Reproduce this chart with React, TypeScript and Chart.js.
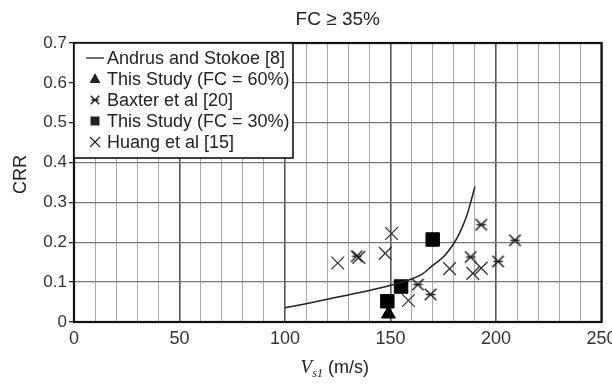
import React, { useEffect, useRef } from 'react';
import { Chart, registerables } from 'chart.js';

Chart.register(...registerables);

// Andrus and Stokoe curve
const curveVs = [100, 110, 120, 130, 140, 150, 160, 165, 170, 175, 180, 183, 186, 188, 190];
const curveCRR = [0.036, 0.046, 0.057, 0.068, 0.079, 0.092, 0.108, 0.12, 0.142, 0.163, 0.197, 0.226, 0.265, 0.3, 0.34];

const fc60Vs = [149];
const fc60CRR = [0.02];

const baxterVs = [134, 163, 169, 188, 193, 201, 209];
const baxterCRR = [0.165, 0.094, 0.069, 0.163, 0.244, 0.152, 0.205];

const fc30Vs = [148.5, 155, 170];
const fc30CRR = [0.052, 0.089, 0.207];

const huangVs = [125, 135, 147.5, 150.5, 158.5, 178, 189, 193];
const huangCRR = [0.148, 0.162, 0.172, 0.222, 0.054, 0.134, 0.122, 0.135];

const legendLabels = [
  'Andrus and Stokoe [8]',
  'This Study (FC = 60%)',
  'Baxter et al [20]',
  'This Study (FC = 30%)',
  'Huang et al [15]',
];

const titleText = 'FC \u2265 35%';
const yTitle = 'CRR';

const SANS = '"Liberation Sans", Arial, sans-serif';
const SERIF = '"Liberation Serif", "Times New Roman", serif';

function pts(xs: number[], ys: number[]) {
  return xs.map((x, i) => ({ x, y: ys[i] }));
}

function drawAsterisk(g: CanvasRenderingContext2D, cx: number, cy: number, r: number, lw: number, color: string) {
  g.save();
  g.strokeStyle = color;
  g.lineWidth = lw;
  g.beginPath();
  const d = r * 0.72;
  g.moveTo(cx - d, cy - d); g.lineTo(cx + d, cy + d);
  g.moveTo(cx + d, cy - d); g.lineTo(cx - d, cy + d);
  g.moveTo(cx - r * 0.6, cy); g.lineTo(cx + r * 0.6, cy);
  g.stroke();
  g.restore();
}

function makeAsterisk(size: number, lw: number, color: string) {
  const c = document.createElement('canvas');
  c.width = size; c.height = size;
  const g = c.getContext('2d')!;
  drawAsterisk(g, size / 2, size / 2, size / 2 - 0.5, lw, color);
  return c;
}

const decor = {
  id: 'decor',
  afterDraw(chart: any) {
    const { ctx, chartArea: a } = chart;
    ctx.save();
    // frame
    ctx.strokeStyle = '#111';
    ctx.lineWidth = 2.2;
    ctx.strokeRect(a.left, a.top, a.right - a.left, a.bottom - a.top);

    // title
    ctx.fillStyle = '#222';
    ctx.font = `19px ${SANS}`;
    ctx.textAlign = 'center';
    ctx.textBaseline = 'middle';
    ctx.fillText(titleText, (a.left + a.right) / 2, 20);

    // y title
    ctx.save();
    ctx.translate(21, (a.top + a.bottom) / 2 - 8);
    ctx.rotate(-Math.PI / 2);
    ctx.font = `18px ${SANS}`;
    ctx.fillText(yTitle, 0, 0);
    ctx.restore();

    // x title: V_s1 (m/s)
    ctx.textAlign = 'left';
    ctx.textBaseline = 'alphabetic';
    ctx.font = `italic 19px ${SERIF}`;
    const wV = ctx.measureText('V').width;
    ctx.font = `italic 12px ${SERIF}`;
    const wS = ctx.measureText('s1').width;
    ctx.font = `18px ${SANS}`;
    const wU = ctx.measureText(' (m/s)').width;
    let x = (a.left + a.right) / 2 - 3 - (wV + wS + wU) / 2;
    const by = 373;
    ctx.font = `italic 19px ${SERIF}`;
    ctx.fillText('V', x, by); x += wV;
    ctx.font = `italic 12px ${SERIF}`;
    ctx.fillText('s1', x, by + 4); x += wS;
    ctx.font = `18px ${SANS}`;
    ctx.fillText(' (m/s)', x, by);

    // legend box
    const lx = a.left, ly = a.top, lw = 219, lh = 115;
    ctx.fillStyle = '#fff';
    ctx.fillRect(lx, ly, lw, lh);
    ctx.strokeStyle = '#111';
    ctx.lineWidth = 1.6;
    ctx.strokeRect(lx, ly, lw, lh);
    const mx = lx + 21;
    ctx.font = `18px ${SANS}`;
    ctx.textBaseline = 'middle';
    legendLabels.forEach((lab, i) => {
      const yy = ly + 15 + i * 21;
      ctx.fillStyle = '#222';
      ctx.strokeStyle = '#222';
      if (i === 0) {
        ctx.lineWidth = 1.3;
        ctx.beginPath(); ctx.moveTo(lx + 12, yy); ctx.lineTo(lx + 30, yy); ctx.stroke();
      } else if (i === 1) {
        ctx.beginPath();
        ctx.moveTo(mx, yy - 6); ctx.lineTo(mx + 5.5, yy + 4); ctx.lineTo(mx - 5.5, yy + 4);
        ctx.closePath(); ctx.fill();
      } else if (i === 2) {
        drawAsterisk(ctx, mx, yy, 6, 1.4, '#222');
      } else if (i === 3) {
        ctx.fillRect(mx - 4.5, yy - 4.5, 9, 9);
      } else {
        ctx.lineWidth = 1.2;
        ctx.beginPath();
        ctx.moveTo(mx - 5, yy - 5); ctx.lineTo(mx + 5, yy + 5);
        ctx.moveTo(mx + 5, yy - 5); ctx.lineTo(mx - 5, yy + 5);
        ctx.stroke();
      }
      ctx.fillStyle = '#222';
      ctx.fillText(lab, lx + 33, yy + 1);
    });
    ctx.restore();
  },
};

export default function App() {
  const ref = useRef<HTMLCanvasElement | null>(null);
  useEffect(() => {
    document.body.style.margin = '0';
    const asterisk = makeAsterisk(17, 1.5, '#222');
    const chart = new Chart(ref.current!, {
      type: 'scatter',
      data: {
        datasets: [
          {
            label: legendLabels[0],
            data: pts(curveVs, curveCRR),
            showLine: true,
            borderColor: '#222',
            borderWidth: 1.5,
            pointRadius: 0,
            tension: 0.3,
          },
          {
            label: legendLabels[1],
            data: pts(fc60Vs, fc60CRR),
            pointStyle: 'triangle',
            pointRadius: 8,
            backgroundColor: '#000',
            borderColor: '#000',
          },
          {
            label: legendLabels[2],
            data: pts(baxterVs, baxterCRR),
            pointStyle: asterisk as any,
            pointRadius: 8,
          },
          {
            label: legendLabels[3],
            data: pts(fc30Vs, fc30CRR),
            pointStyle: 'rect',
            pointRadius: 9.5,
            backgroundColor: '#000',
            borderColor: '#000',
          },
          {
            label: legendLabels[4],
            data: pts(huangVs, huangCRR),
            pointStyle: 'crossRot',
            pointRadius: 9,
            borderColor: '#333',
            borderWidth: 1.3,
            backgroundColor: '#333',
          },
        ],
      },
      options: {
        responsive: false,
        animation: false,
        devicePixelRatio: 1,
        layout: { padding: { top: 43, right: 5, bottom: 0, left: 0 } },
        plugins: { legend: { display: false }, title: { display: false }, tooltip: { enabled: false } },
        scales: {
          x: {
            type: 'linear',
            min: 0,
            max: 250,
            afterFit: (s: any) => { s.height = 66; s.paddingRight = 0; s.paddingLeft = 0; },
            ticks: {
              stepSize: 10,
              autoSkip: false,
              maxRotation: 0,
              padding: 6,
              color: '#333',
              font: { family: SANS, size: 18 },
              callback: (v: any) => (Math.round(v) % 50 === 0 ? String(Math.round(v)) : ''),
            },
            grid: {
              drawTicks: false,
              color: (c: any) => (Math.round(c.tick?.value ?? 1) % 50 === 0 ? '#555' : '#a8a8a8'),
              lineWidth: (c: any) => (Math.round(c.tick?.value ?? 1) % 50 === 0 ? 1.6 : 1),
            },
            border: { display: false },
          },
          y: {
            min: 0,
            max: 0.7,
            afterFit: (s: any) => { s.width = 74; },
            ticks: {
              stepSize: 0.1,
              padding: 2,
              color: '#333',
              font: { family: SANS, size: 17 },
              callback: (v: any) => (Math.abs(v) < 1e-9 ? '0' : Number(v).toFixed(1)),
            },
            grid: {
              color: '#777',
              lineWidth: 1.3,
              tickLength: 5,
              tickColor: '#222',
            },
            border: { display: false },
          },
        },
      },
      plugins: [decor],
    });
    return () => chart.destroy();
  }, []);
  return (
    <div style={{ width: 612, height: 388 }}>
      <canvas ref={ref} width={612} height={388} />
    </div>
  );
}
